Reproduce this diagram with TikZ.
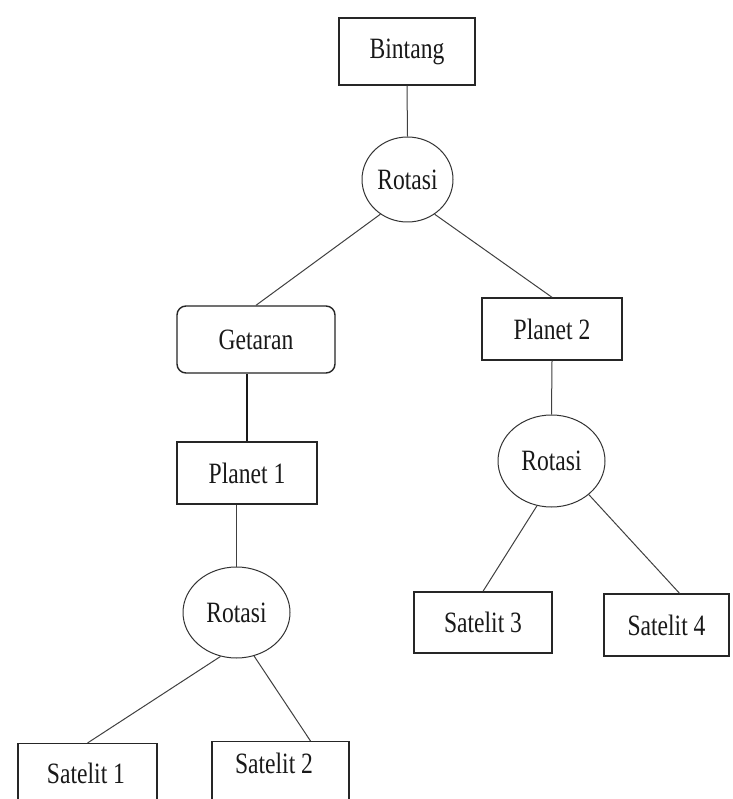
\documentclass[tikz,border=0pt]{standalone}
\usepackage{fontspec}
\setmainfont{Liberation Serif}
\newfontfamily\condfont[FakeStretch=0.8]{Liberation Serif}
\usetikzlibrary{shapes.geometric}
\begin{document}
\begin{tikzpicture}[x=1pt,y=-1pt,
  lbl/.style={font=\condfont\fontsize{29.5}{31}\selectfont, text=black!90, inner sep=0pt},
  box/.style={lbl, draw=black!85, line width=1.4pt, rectangle},
  rbox/.style={box, rounded corners=9pt},
  rot/.style={lbl, draw=black!80, line width=1pt, ellipse},
  conn/.style={draw=black!75, line width=1pt},
  thick conn/.style={draw=black!90, line width=2pt}]
\useasboundingbox[fill=white] (0,0) rectangle (732,799);

\node[box, minimum width=136pt, minimum height=67pt] (bintang) at (407,51.5) {Bintang};
\node[rot, minimum width=91pt, minimum height=85pt] (rot0) at (407.5,179.5) {Rotasi};
\node[rbox, minimum width=158pt, minimum height=67pt] (getaran) at (256,339.5) {Getaran};
\node[box, minimum width=140pt, minimum height=62pt] (planet2) at (552,329) {Planet 2};
\node[box, minimum width=140pt, minimum height=62pt] (planet1) at (247,473) {Planet 1};
\node[rot, minimum width=107pt, minimum height=92pt] (rot2) at (551.5,461) {Rotasi};
\node[rot, minimum width=107pt, minimum height=91pt] (rot1) at (236.5,612.5) {Rotasi};
\node[box, minimum width=138pt, minimum height=61pt] (sat3) at (483,622.5) {Satelit 3};
\node[box, minimum width=125pt, minimum height=62pt] (sat4) at (666.5,625) {Satelit 4};
\node[box, minimum width=139pt, minimum height=100pt, anchor=north] (sat1) at (87.5,743) {};
\node[lbl] (sat1t) at (86,773) {Satelit 1};
\node[box, minimum width=137pt, minimum height=100pt, anchor=north] (sat2) at (280.5,741) {};
\node[lbl] (sat2t) at (274,763) {Satelit 2};

\draw[conn] (bintang.south) -- (rot0.north);
\draw[conn] (rot0.232) -- (getaran.north);
\draw[conn] (rot0.308) -- (planet2.north);
\draw[thick conn] (planet1.north) -- (planet1.north |- getaran.south);
\draw[conn] (rot1.north) -- (rot1.north |- planet1.south);
\draw[conn] (planet2.south) -- (rot2.north);
\draw[conn] (rot2.252) -- (sat3.north);
\draw[conn] (rot2.318) -- ([xshift=13pt]sat4.north);
\draw[conn] (rot1.250) -- (sat1.north);
\draw[conn] (rot1.292) -- ([xshift=30pt]sat2.north);
\end{tikzpicture}
\end{document}
